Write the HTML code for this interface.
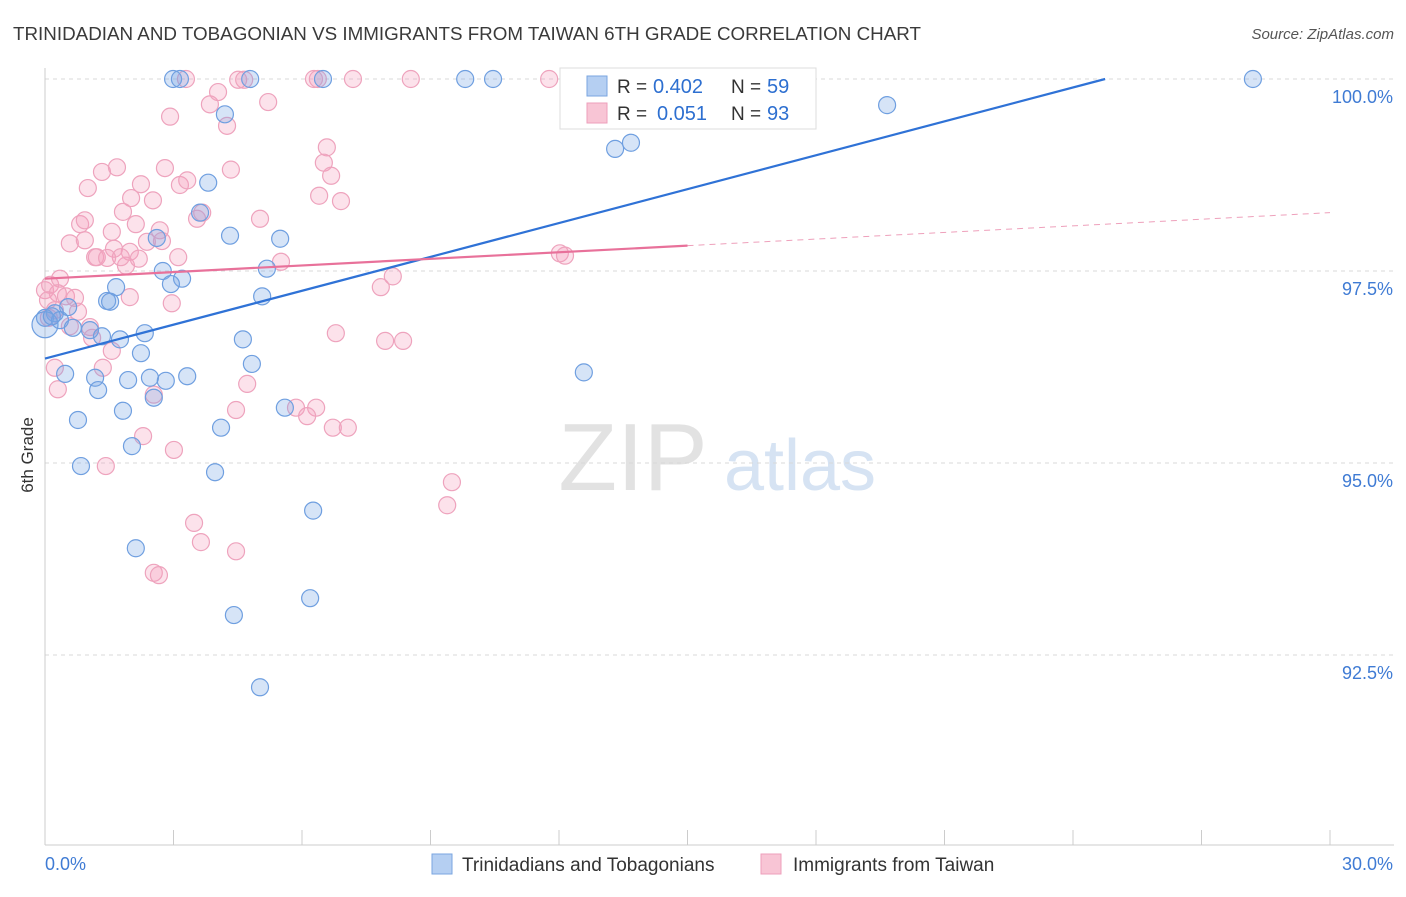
<!DOCTYPE html>
<html><head><meta charset="utf-8"><style>
body{margin:0;background:#fff;font-family:"Liberation Sans",sans-serif;}
svg text{font-family:"Liberation Sans",sans-serif;}
</style></head><body>
<svg id="chart" width="1406" height="892" xmlns="http://www.w3.org/2000/svg">
<text x="13" y="40" font-size="18" fill="#3a3a3a" textLength="908" lengthAdjust="spacingAndGlyphs">TRINIDADIAN AND TOBAGONIAN VS IMMIGRANTS FROM TAIWAN 6TH GRADE CORRELATION CHART</text>
<text x="1394" y="39" font-size="15" fill="#555" text-anchor="end" font-style="italic">Source: ZipAtlas.com</text>
<text x="33" y="455" font-size="17" fill="#333" text-anchor="middle" transform="rotate(-90 33 455)">6th Grade</text>
<g>
<text x="633" y="490" font-size="96" fill="#e2e2e2" text-anchor="middle" font-family="Liberation Serif">ZIP</text>
<text x="800" y="490" font-size="72" fill="#d6e3f3" text-anchor="middle">atlas</text>
</g>
<g id="grid"></g><g id="axes"></g><g id="marks"></g><g id="trends"></g>
<g>
<rect x="560" y="68" width="256" height="61" fill="#fff" stroke="#ddd"/>
<rect x="587" y="76" width="20" height="20" fill="#b5cff2" stroke="#7aa6e0"/>
<text x="617" y="93" font-size="19" fill="#333">R =</text>
<text x="653" y="93" font-size="20" fill="#2d6fd0">0.402</text>
<text x="731" y="93" font-size="19" fill="#333">N =</text>
<text x="767" y="93" font-size="20" fill="#2d6fd0">59</text>
<rect x="587" y="103" width="20" height="20" fill="#f8c5d5" stroke="#ee9fbb"/>
<text x="617" y="120" font-size="19" fill="#333">R =</text>
<text x="657" y="120" font-size="20" fill="#2d6fd0">0.051</text>
<text x="731" y="120" font-size="19" fill="#333">N =</text>
<text x="767" y="120" font-size="20" fill="#2d6fd0">93</text>
</g>
<g>
<rect x="432" y="854" width="20" height="20" fill="#b5cff2" stroke="#7aa6e0"/>
<text x="462" y="871" font-size="19" fill="#333">Trinidadians and Tobagonians</text>
<rect x="761" y="854" width="20" height="20" fill="#f8c5d5" stroke="#ee9fbb"/>
<text x="793" y="871" font-size="19" fill="#333">Immigrants from Taiwan</text>
</g>
</svg>
<script>
const yTicks=[100,97.5,95,92.5];
const yTickLabels=["100.0%","97.5%","95.0%","92.5%"];
const xTicks=[0,3,6,9,12,15,18,21,24,27,30];
const xEndLabels=["0.0%","30.0%"];
const blueX=[2.99,3.15,4.79,6.49,9.81,10.46,28.2,19.66,4.2,13.31,13.68,3.81,3.62,4.32,5.49,2.61,2.75,5.18,3.2,2.94,1.66,5.07,1.45,1.52,0.54,0.23,0,0.35,0.65,1.05,1.33,1.75,2.33,4.62,2.24,4.83,0.47,1.17,1.94,2.45,2.82,3.32,1.24,2.54,1.82,5.6,0.77,4.11,2.03,0.84,3.97,6.26,2.12,6.19,4.41,5.02,12.58,0,0.16];
const blueY=[100,100,100,100,100,100,100,99.66,99.54,99.09,99.17,98.65,98.26,97.96,97.92,97.93,97.5,97.53,97.4,97.33,97.29,97.17,97.11,97.1,97.03,96.95,96.89,96.86,96.76,96.73,96.65,96.61,96.69,96.61,96.43,96.29,96.16,96.11,96.08,96.11,96.07,96.13,95.95,95.85,95.68,95.72,95.56,95.46,95.22,94.96,94.88,94.38,93.89,93.24,93.02,92.08,96.18,96.8,96.91];
const pinkX=[0,0.12,0.35,0.3,0.49,0.07,0.7,0.23,0.77,0.09,0.58,1.05,1.1,1.56,1.35,0.23,0.3,0.58,0.93,0.82,0.93,1,1.33,1.68,2.01,2.24,2.52,2.8,2.92,3.15,3.32,3.55,3.67,3.85,4.04,4.25,4.34,4.51,4.65,5.21,6.28,6.37,7.19,8.54,11.77,5.02,3.29,6.58,6.51,6.68,6.4,6.91,1.82,2.12,2.38,2.68,2.73,1.56,1.61,1.98,1.89,1.17,1.21,2.19,3.11,1.77,1.45,1.98,2.96,5.51,8.12,7.84,7.94,8.36,6.79,4.72,2.54,4.46,5.86,6.33,6.12,6.72,7.07,2.29,3.01,1.42,9.5,9.39,3.48,3.64,4.46,2.54,2.66,12.02,12.14];
const pinkY=[97.25,97.32,97.4,97.21,97.17,97.12,97.15,96.99,96.97,96.89,96.78,96.77,96.63,96.46,96.24,96.24,95.96,97.86,97.9,98.11,98.16,98.58,98.79,98.85,98.45,98.63,98.42,98.84,99.51,98.62,98.68,98.18,98.26,99.67,99.83,99.39,98.82,99.99,99.99,99.7,100,100,100,100,100,98.18,100,99.11,98.91,98.74,98.48,98.41,98.27,98.11,97.88,98.03,97.89,98.01,97.79,97.75,97.57,97.68,97.68,97.66,97.68,97.68,97.67,97.16,97.08,97.62,97.43,97.29,96.59,96.59,96.69,96.03,95.89,95.69,95.72,95.72,95.61,95.46,95.46,95.35,95.17,94.96,94.75,94.45,94.22,93.97,93.85,93.57,93.54,97.73,97.7];
const blueTrendX=[0,24.75],blueTrendY=[96.36,100];
const pinkTrendX=[0,15],pinkTrendY=[97.4,97.83];
const pinkDashX=[15,30],pinkDashY=[97.83,98.26];

const NS="http://www.w3.org/2000/svg";
const xs=v=>45+v/30*1285;
const ys=v=>79+(100-v)*76.8;
function mk(tag,attrs,parent){const e=document.createElementNS(NS,tag);for(const k in attrs)e.setAttribute(k,attrs[k]);document.getElementById(parent).appendChild(e);return e;}
yTicks.forEach((t,i)=>{
 const l=mk('line',{x1:45,x2:1394,y1:ys(t),y2:ys(t),stroke:'#d8d8d8','stroke-dasharray':'4,4'},'grid');
 
 
 const tx=mk('text',{x:1393,y:ys(t)+24,'font-size':18,fill:'#3f7bd4','text-anchor':'end'},'grid');
 tx.textContent=yTickLabels[i];
 
 
});
const ax=mk('line',{x1:45,x2:45,y1:68,y2:845,stroke:'#ccc'},'axes');


const bx=mk('line',{x1:45,x2:1394,y1:845,y2:845,stroke:'#ccc'},'axes');


xTicks.forEach(t=>{
 const l=mk('line',{x1:xs(t),x2:xs(t),y1:830,y2:845,stroke:'#ccc'},'axes');
 
 
});
const xl0=mk('text',{x:45,y:870,'font-size':18,fill:'#3f7bd4'},'axes');xl0.textContent=xEndLabels[0];


const xl1=mk('text',{x:1393,y:870,'font-size':18,fill:'#3f7bd4','text-anchor':'end'},'axes');xl1.textContent=xEndLabels[1];


pinkX.forEach((x,i)=>{
 const c=mk('circle',{cx:xs(x),cy:ys(pinkY[i]),r:8.5,fill:'rgba(244,160,188,0.3)',stroke:'#eea3bd','stroke-width':1.2},'marks');
 
 
});
blueX.forEach((x,i)=>{
 const c=mk('circle',{cx:xs(x),cy:ys(blueY[i]),r:(i===57?13:8.5),fill:'rgba(120,165,230,0.3)',stroke:'#6f9fe0','stroke-width':1.2},'marks');
 
 
});
const bt=mk('line',{x1:xs(blueTrendX[0]),y1:ys(blueTrendY[0]),x2:xs(blueTrendX[1]),y2:ys(blueTrendY[1]),stroke:'#2f72d6','stroke-width':2.2},'trends');


const pt=mk('line',{x1:xs(pinkTrendX[0]),y1:ys(pinkTrendY[0]),x2:xs(pinkTrendX[1]),y2:ys(pinkTrendY[1]),stroke:'#e8719a','stroke-width':2.2},'trends');


const pd=mk('line',{x1:xs(pinkDashX[0]),y1:ys(pinkDashY[0]),x2:xs(pinkDashX[1]),y2:ys(pinkDashY[1]),stroke:'#eea0bb','stroke-width':1,'stroke-dasharray':'6,5'},'trends');


</script>
</body></html>
